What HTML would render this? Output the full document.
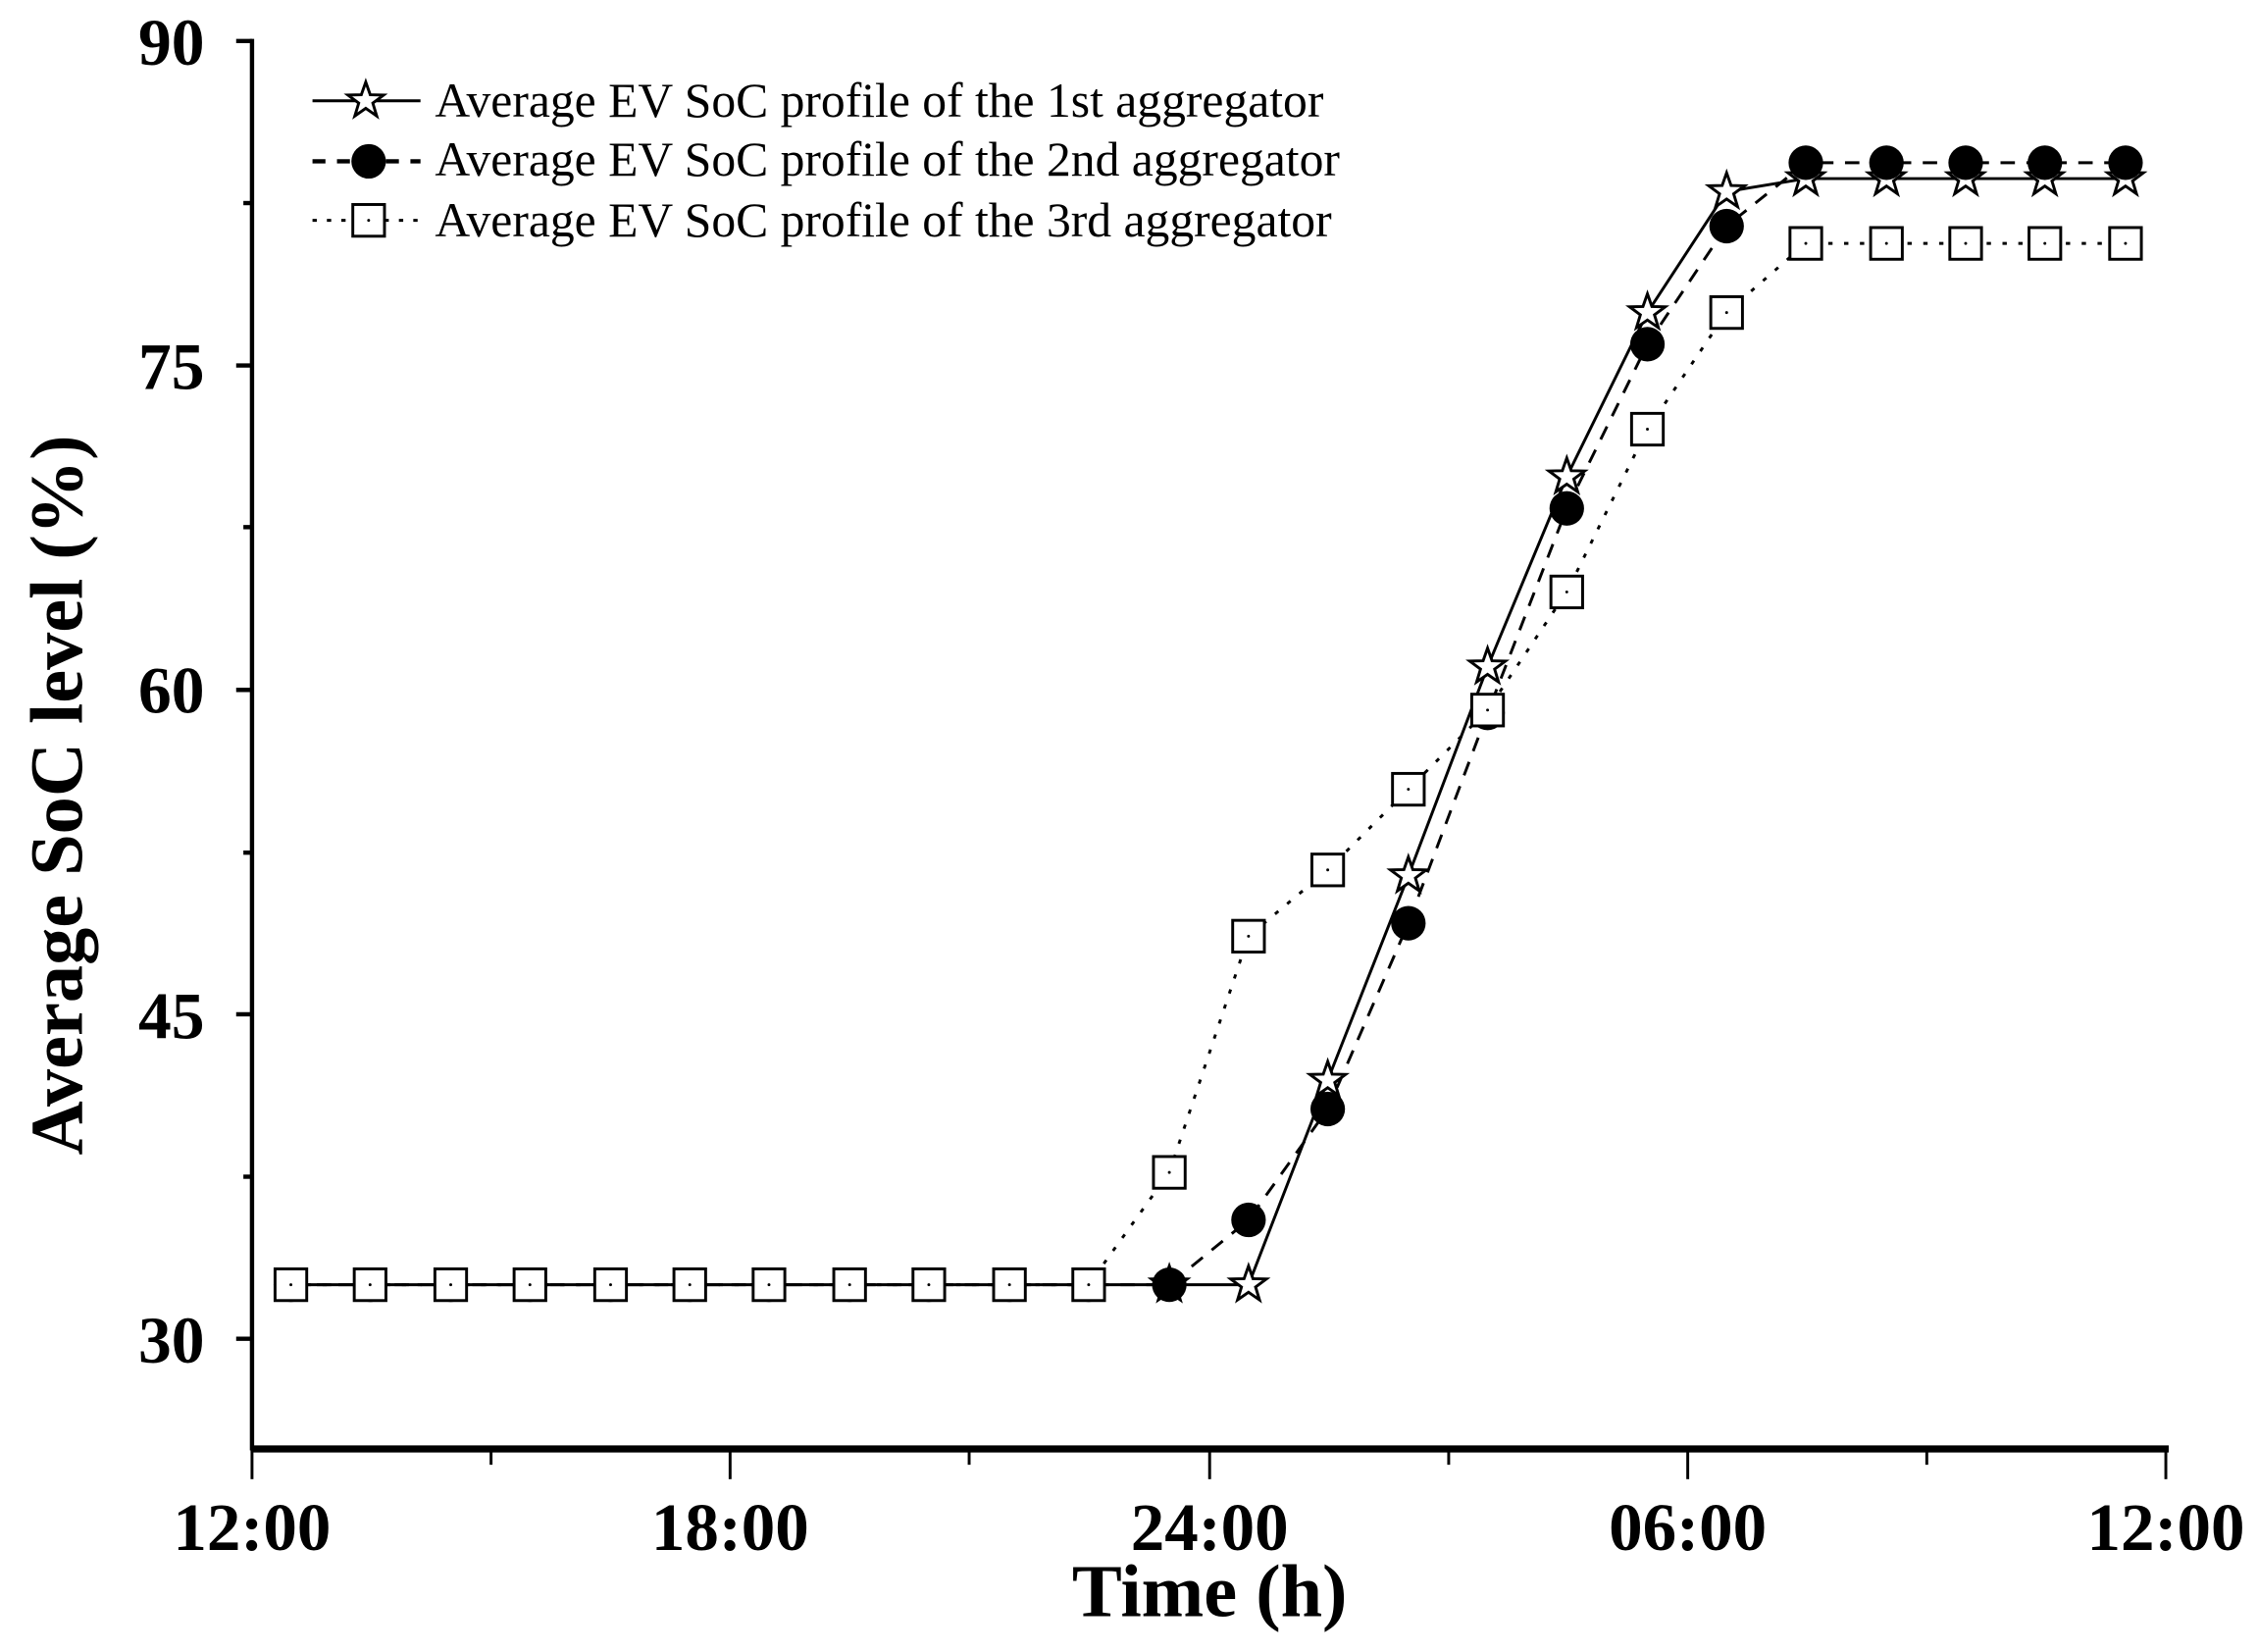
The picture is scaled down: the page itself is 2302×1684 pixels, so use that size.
<!DOCTYPE html>
<html><head><meta charset="utf-8"><style>
html,body{margin:0;padding:0;background:#fff;}
svg{display:block;}
text{font-family:"Liberation Serif",serif;fill:#000;}
</style></head><body>
<svg width="2302" height="1684" viewBox="0 0 1568 1147" preserveAspectRatio="none" xmlns="http://www.w3.org/2000/svg">
<defs>
<polygon id="st" points="0,-13 3.1,-4.2 12.4,-4 4.9,1.6 7.6,10.5 0,5.2 -7.6,10.5 -4.9,1.6 -12.4,-4 -3.1,-4.2" fill="#fff" stroke="#000" stroke-width="2"/>
<g id="ci"><circle r="12" fill="#000"/></g>
<g id="sq"><rect x="-11" y="-11" width="22" height="22" fill="#fff" stroke="#000" stroke-width="2"/><circle r="1" fill="#000"/></g>
</defs>
<line x1="175" y1="27" x2="175" y2="1007" stroke="#000" stroke-width="3"/>
<line x1="174" y1="1006" x2="1506" y2="1006" stroke="#000" stroke-width="5"/>
<g stroke="#000" stroke-width="3">
<line x1="164" y1="28.5" x2="175" y2="28.5"/><line x1="164" y1="253.75" x2="175" y2="253.75"/><line x1="164" y1="479" x2="175" y2="479"/><line x1="164" y1="704.25" x2="175" y2="704.25"/><line x1="164" y1="929.5" x2="175" y2="929.5"/>
<line x1="169" y1="141" x2="175" y2="141"/><line x1="169" y1="366" x2="175" y2="366"/><line x1="169" y1="592" x2="175" y2="592"/><line x1="169" y1="817" x2="175" y2="817"/>
</g>
<g stroke="#000" stroke-width="2">
<line x1="175" y1="1006" x2="175" y2="1027"/><line x1="507" y1="1006" x2="507" y2="1027"/><line x1="840" y1="1006" x2="840" y2="1027"/><line x1="1172" y1="1006" x2="1172" y2="1027"/><line x1="1504" y1="1006" x2="1504" y2="1027"/>
<line x1="341" y1="1006" x2="341" y2="1017"/><line x1="673" y1="1006" x2="673" y2="1017"/><line x1="1006" y1="1006" x2="1006" y2="1017"/><line x1="1338" y1="1006" x2="1338" y2="1017"/>
</g>
<g font-size="46" font-weight="bold" text-anchor="end">
<text x="142" y="45">90</text><text x="142" y="270">75</text><text x="142" y="495">60</text><text x="142" y="721">45</text><text x="142" y="946">30</text>
</g>
<g font-size="47" font-weight="bold" text-anchor="middle">
<text x="175" y="1076">12:00</text><text x="507" y="1076">18:00</text><text x="840" y="1076">24:00</text><text x="1172" y="1076">06:00</text><text x="1504" y="1076">12:00</text>
</g>
<text x="840" y="1122" font-size="52" font-weight="bold" text-anchor="middle">Time (h)</text>
<text transform="translate(57,552) rotate(-90)" font-size="52" font-weight="bold" text-anchor="middle">Average SoC level (%)</text>
<line x1="217" y1="70" x2="292" y2="70" stroke="#000" stroke-width="2"/><use href="#st" x="254" y="70"/>
<text x="302" y="81" font-size="33.8">Average EV SoC profile of the 1st aggregator</text>
<line x1="217" y1="112" x2="292" y2="112" stroke="#000" stroke-width="3" stroke-dasharray="9,8"/><use href="#ci" x="256" y="112"/>
<text x="302" y="122" font-size="33.8">Average EV SoC profile of the 2nd aggregator</text>
<line x1="217" y1="153" x2="292" y2="153" stroke="#000" stroke-width="2" stroke-dasharray="3,7"/><use href="#sq" x="256" y="153"/>
<text x="302" y="164" font-size="33.8">Average EV SoC profile of the 3rd aggregator</text>
<polyline fill="none" stroke="#000" stroke-width="2" points="202,892 257,892 313,892 368,892 424,892 479,892 534,892 590,892 645,892 701,892 756,892 812,892 867,892 922,750 978,608 1033,463 1088,331 1144,217 1199,133 1254,124 1310,124 1365,124 1420,124 1476,124"/>
<polyline fill="none" stroke="#000" stroke-width="2" stroke-dasharray="10,8" points="202,892 257,892 313,892 368,892 424,892 479,892 534,892 590,892 645,892 701,892 756,892 812,892 867,847 922,770 978,641 1033,495 1088,353 1144,239 1199,157 1254,113 1310,113 1365,113 1420,113 1476,113"/>
<polyline fill="none" stroke="#000" stroke-width="2" stroke-dasharray="3,8" points="202,892 257,892 313,892 368,892 424,892 479,892 534,892 590,892 645,892 701,892 756,892 812,814 867,650 922,604 978,548 1033,493 1088,411 1144,298 1199,217 1254,169 1310,169 1365,169 1420,169 1476,169"/>
<g>
<use href="#st" x="812" y="892"/><use href="#st" x="867" y="892"/><use href="#st" x="922" y="750"/><use href="#st" x="978" y="608"/><use href="#st" x="1033" y="463"/><use href="#st" x="1088" y="331"/><use href="#st" x="1144" y="217"/><use href="#st" x="1199" y="133"/><use href="#st" x="1254" y="124"/><use href="#st" x="1310" y="124"/><use href="#st" x="1365" y="124"/><use href="#st" x="1420" y="124"/><use href="#st" x="1476" y="124"/>
</g>
<g>
<use href="#ci" x="202" y="892"/><use href="#ci" x="257" y="892"/><use href="#ci" x="313" y="892"/><use href="#ci" x="368" y="892"/><use href="#ci" x="424" y="892"/><use href="#ci" x="479" y="892"/><use href="#ci" x="534" y="892"/><use href="#ci" x="590" y="892"/><use href="#ci" x="645" y="892"/><use href="#ci" x="701" y="892"/><use href="#ci" x="756" y="892"/><use href="#ci" x="812" y="892"/><use href="#ci" x="867" y="847"/><use href="#ci" x="922" y="770"/><use href="#ci" x="978" y="641"/><use href="#ci" x="1033" y="495"/><use href="#ci" x="1088" y="353"/><use href="#ci" x="1144" y="239"/><use href="#ci" x="1199" y="157"/><use href="#ci" x="1254" y="113"/><use href="#ci" x="1310" y="113"/><use href="#ci" x="1365" y="113"/><use href="#ci" x="1420" y="113"/><use href="#ci" x="1476" y="113"/>
</g>
<g>
<use href="#sq" x="202" y="892"/><use href="#sq" x="257" y="892"/><use href="#sq" x="313" y="892"/><use href="#sq" x="368" y="892"/><use href="#sq" x="424" y="892"/><use href="#sq" x="479" y="892"/><use href="#sq" x="534" y="892"/><use href="#sq" x="590" y="892"/><use href="#sq" x="645" y="892"/><use href="#sq" x="701" y="892"/><use href="#sq" x="756" y="892"/><use href="#sq" x="812" y="814"/><use href="#sq" x="867" y="650"/><use href="#sq" x="922" y="604"/><use href="#sq" x="978" y="548"/><use href="#sq" x="1033" y="493"/><use href="#sq" x="1088" y="411"/><use href="#sq" x="1144" y="298"/><use href="#sq" x="1199" y="217"/><use href="#sq" x="1254" y="169"/><use href="#sq" x="1310" y="169"/><use href="#sq" x="1365" y="169"/><use href="#sq" x="1420" y="169"/><use href="#sq" x="1476" y="169"/>
</g>
</svg>
</body></html>
